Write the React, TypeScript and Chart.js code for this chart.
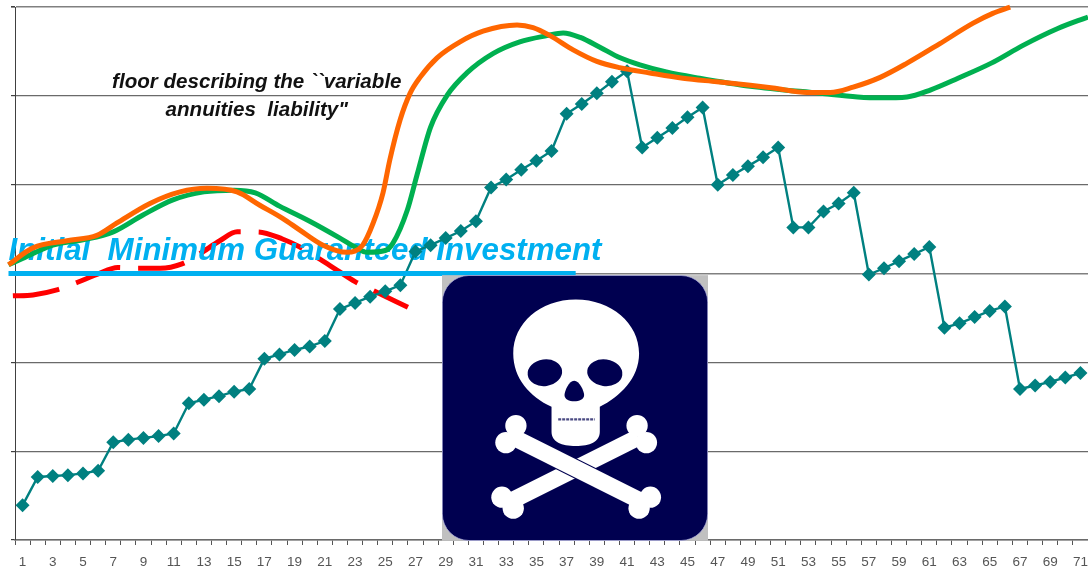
import React, { useEffect, useRef } from "react";
import { Chart, registerables } from "chart.js";

Chart.register(...registerables);

const categories = Array.from({ length: 71 }, (_, i) => String(i + 1));

const fundValues = [
  39, 71, 72, 73, 75, 78, 110, 113, 115, 117, 120, 154, 158, 162, 167, 170, 204, 209, 214, 218, 224,
  260, 267, 274, 280, 287, 325, 332, 340, 348, 359, 397, 406, 417, 427, 438, 480, 491, 503, 516, 528,
  442, 453, 464, 476, 487, 400, 411, 421, 431, 442, 352, 352, 370, 379, 391, 299, 306, 314, 322, 330,
  239, 244, 251, 258, 263, 170, 174, 178, 183, 188,
];

const orangeX = [
  0.07, 1.69, 3.94, 5.92, 7.25, 9.43, 11.42, 13.2, 15.19, 16.7, 18.23, 19.35, 20.88, 22.47, 23.5, 24.2, 24.85,
  25.3, 25.98, 26.64, 27.3, 28.43, 29.95, 31.47, 33.72, 34.78, 35.9, 37.43, 39, 40.5, 42.5, 44.7, 46.95, 49.15,
  50.66, 52.9, 54.44, 55.96, 57.75, 59.53, 61.7, 63.9, 65.2, 66.35,
];
const orangeValues = [
  310, 329, 337, 343, 357, 379, 392, 396, 392, 377, 362, 349, 332, 324, 332, 357, 391,
  428, 473, 503, 521, 543, 561, 573, 580, 577, 568, 552, 539, 532, 526, 520, 516, 512,
  509, 504, 504, 510, 521, 537, 559, 582, 593, 600,
];

const greenX = [
  0.07, 1, 3, 5, 7, 8.97, 10.95, 13, 15, 16.4, 18, 20, 22, 23, 23.8, 25, 25.5, 26.45, 27.1, 28, 29.1, 30.4, 32.15,
  33.9, 35.7, 36.77, 37.9, 39.2, 40.54, 41.85, 43.6, 45.8, 49.15, 53.8, 56.25, 57.75, 59.53, 61.1, 62.9, 65.1,
  67.2, 69.5, 71.5,
];
const greenValues = [
  310, 317, 332, 338, 347, 366, 383, 392, 394, 391, 376, 359, 340, 330, 324, 326, 334, 371, 411, 465, 501, 526, 548,
  561, 568, 571, 566, 555, 543, 535, 527, 520, 511, 503, 499, 498, 499, 507, 520, 537,
  557, 576, 589,
];

const floorX = [
  0.36, 1.69, 3.34, 4.6, 5.92, 7.3, 8.57, 10.1, 11.55, 12.7, 14.05, 15.2, 16.55, 18.2, 19.35, 20.7, 21.8, 23, 24.2, 26.5,
];
const floorValues = [275, 276, 282, 290, 299, 307, 306, 306, 311, 322, 337, 347, 347, 339, 330, 316, 304, 291, 281, 262];

const guaranteeX = [0.07, 37.6];
const guaranteeValues = [300, 300];

const guaranteeLabel = "Initial  Minimum Guaranteed Investment";
const guaranteeLabelAt = { x: 0.07, y: 315 };
const floorLabel = ['floor describing the ``variable', 'annuities  liability"'];
const floorLabelAt = [
  { x: 16.5, y: 509 },
  { x: 16.5, y: 478 },
];

const pairs = (xs: number[], ys: number[]) => xs.map((x, i) => ({ x, y: ys[i] }));

const textPlugin = {
  id: "chartText",
  afterDatasetDraw(chart: any, args: any) {
    if (args.index !== 4) return;
    const { ctx, scales } = chart;
    ctx.save();
    ctx.textBaseline = "alphabetic";
    ctx.fillStyle = "#00B0F0";
    ctx.textAlign = "left";
    ctx.font = 'italic bold 31.3px "Liberation Sans"';
    ctx.fillText(guaranteeLabel, scales.xc.getPixelForValue(guaranteeLabelAt.x), scales.y.getPixelForValue(guaranteeLabelAt.y));
    ctx.fillStyle = "#111";
    ctx.textAlign = "center";
    ctx.font = 'italic bold 20.6px "Liberation Sans"';
    floorLabel.forEach((line, i) => {
      ctx.fillText(line, scales.xc.getPixelForValue(floorLabelAt[i].x), scales.y.getPixelForValue(floorLabelAt[i].y));
    });
    ctx.restore();
  },
};

function Skull() {
  const bone = (x1: number, y1: number, x2: number, y2: number, k: number[][]) => (
    <g fill="#fff" stroke="#fff">
      <line x1={x1} y1={y1} x2={x2} y2={y2} strokeWidth={50} />
      {k.map(([cx, cy], i) => (
        <circle key={i} cx={cx} cy={cy} r={32} stroke="none" />
      ))}
    </g>
  );
  return (
    <svg
      viewBox="36 45 799 798"
      width={266}
      height={266}
      style={{ position: "absolute", left: 442, top: 275, display: "block" }}
    >
      <rect x={36} y={45} width={799} height={798} fill="#C0C0C0" />
      <rect x={37} y={46} width={797} height={796} rx={80} fill="#000050" stroke="#b8b8e8" strokeWidth={2} />
      {bone(626, 532, 236, 727, [[622, 497], [650, 548], [250, 745], [216, 712]])}
      <line x1={300} y1={557} x2={580} y2={697} stroke="#000050" strokeWidth={57} />
      {bone(250, 532, 640, 727, [[258, 497], [228, 548], [628, 745], [662, 712]])}
      <path
        d="M438 118 C545 118 628 190 628 280 C628 355 570 410 510 440 L510 515 C510 545 480 558 438 558 C395 558 365 545 365 515 L365 440 C300 410 250 355 250 280 C250 190 330 118 438 118 Z"
        fill="#fff"
      />
      <ellipse cx={345} cy={338} rx={52} ry={40} fill="#000050" transform="rotate(-8 345 338)" />
      <ellipse cx={525} cy={338} rx={53} ry={40} fill="#000050" transform="rotate(8 525 338)" />
      <path d="M433 362 C450 362 463 395 463 405 C463 418 448 424 433 424 C418 424 404 418 404 405 C404 395 416 362 433 362 Z" fill="#000050" />
      <line x1={385} y1={478} x2={495} y2={478} stroke="#000050" strokeWidth={7} strokeDasharray="9 3" opacity={0.7} />
    </svg>
  );
}

export default function App() {
  const ref = useRef<HTMLCanvasElement>(null);
  useEffect(() => {
    const line = (borderColor: string, xs: number[], ys: number[], extra: any = {}) => ({
      type: "line",
      xAxisID: "xc",
      data: pairs(xs, ys),
      borderColor,
      borderWidth: 5,
      pointRadius: 0,
      cubicInterpolationMode: "monotone",
      clip: false,
      fill: false,
      ...extra,
    });
    const chart = new Chart(ref.current as HTMLCanvasElement, {
      type: "line",
      data: {
        labels: categories,
        datasets: [
          line("#00B0F0", guaranteeX, guaranteeValues, { cubicInterpolationMode: "default", tension: 0 }),
          line("#FF6600", orangeX, orangeValues),
          line("#00B050", greenX, greenValues),
          {
            type: "line",
            xAxisID: "x",
            data: fundValues,
            borderColor: "#008080",
            backgroundColor: "#008080",
            borderWidth: 2.4,
            tension: 0,
            pointStyle: "rectRot",
            pointRadius: 7,
            pointBorderWidth: 0,
            clip: false,
          },
          line("#FF0000", floorX, floorValues, { borderDash: [47, 18] }),
        ],
      } as any,
      options: {
        responsive: false,
        animation: false,
        layout: { autoPadding: false, padding: { top: 7, right: 0, left: 0, bottom: 0 } },
        plugins: { legend: { display: false }, title: { display: false }, tooltip: { enabled: false } },
        scales: {
          x: {
            type: "category",
            offset: true,
            border: { color: "#6a6a6a", width: 1.5 },
            grid: { offset: true, drawOnChartArea: false, drawTicks: true, tickLength: 5, tickColor: "#555" },
            ticks: {
              autoSkip: false,
              maxRotation: 0,
              minRotation: 0,
              padding: 9,
              color: "#555",
              font: { family: '"Liberation Sans"', size: 13.5 },
              callback: (_v: any, i: number) => (i % 2 === 0 ? categories[i] : ""),
            },
            afterFit: (s: any) => {
              s.height = 31;
              s.paddingLeft = 0;
              s.paddingRight = 0;
            },
          },
          xc: { type: "linear", display: false, min: 0.5, max: 71.5 },
          y: {
            min: 0,
            max: 600,
            border: { color: "#404040", width: 1 },
            grid: {
              color: (c: any) => (c.tick && (c.tick.value === 600 || c.tick.value === 300) ? "#808080" : "#6a6a6a"),
              lineWidth: (c: any) => (c.tick && (c.tick.value === 600 || c.tick.value === 300) ? 1.6 : 1.2),
              tickLength: 4,
              tickColor: "#404040",
            },
            ticks: { stepSize: 100, callback: () => "", padding: 0 },
            afterFit: (s: any) => {
              s.width = 15;
            },
          },
        },
      } as any,
      plugins: [textPlugin],
    } as any);
    return () => chart.destroy();
  }, []);
  return (
    <div style={{ position: "absolute", left: 0, top: 0, width: 1088, height: 571, overflow: "hidden", background: "#fff", filter: "blur(0.4px)" }}>
      <canvas ref={ref} width={1088} height={571} style={{ display: "block" }} />
      <Skull />
    </div>
  );
}
